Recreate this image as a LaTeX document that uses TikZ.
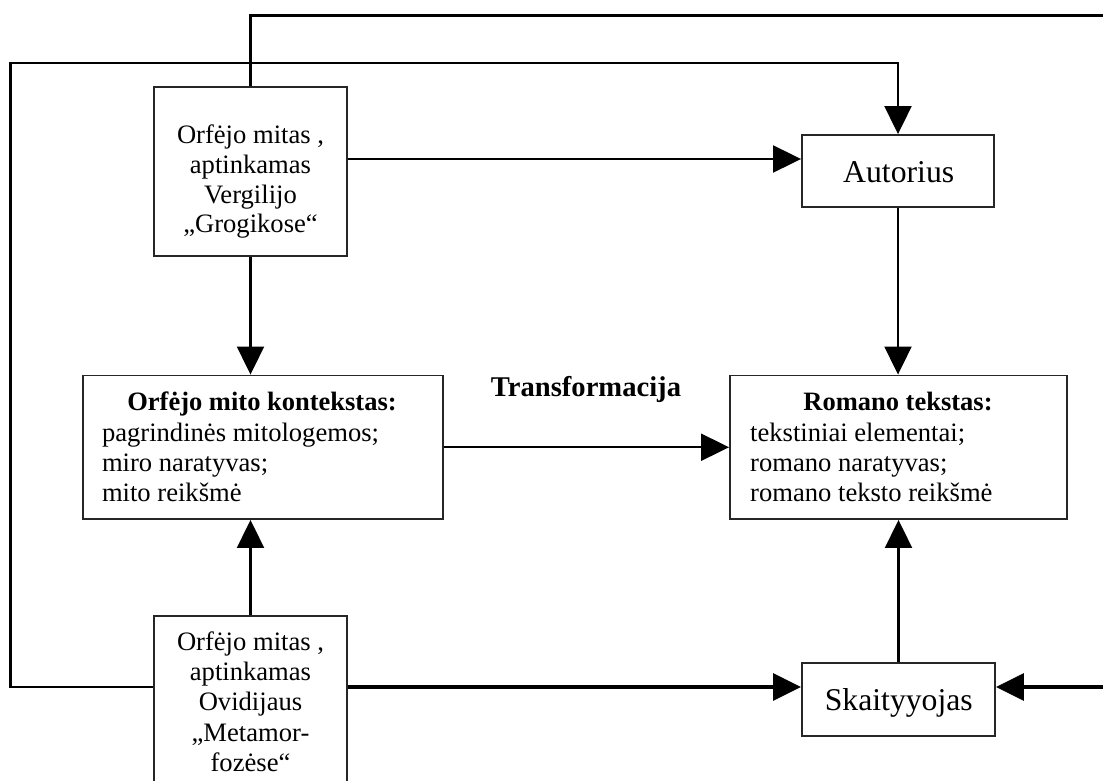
\documentclass[tikz,border=0pt]{standalone}
\usepackage{fontspec}
\setmainfont{Liberation Serif}
\usetikzlibrary{arrows.meta}
\begin{document}
\begin{tikzpicture}[x=1pt,y=-1pt,
  box/.style={draw=black!85, line width=1.9pt, rectangle, inner sep=0pt},
  conn/.style={line width=2.1pt},
  heavy/.style={line width=3.2pt},
  arr/.style={-{Triangle[length=28pt,width=27pt]}},
  txt/.style={inner sep=0pt, anchor=base},
  bigfont/.style={font=\fontsize{31.7}{38}\selectfont},
  headfont/.style={font=\fontsize{26.5}{30}\selectfont\bfseries}]
\useasboundingbox (0,0) rectangle (1103,781);
% boxes
\node[box, minimum width=193pt, minimum height=169pt] (verg) at (250.5,171.5) {};
\node[box, minimum width=192pt, minimum height=72pt] (au) at (898,171) {};
\node[box, minimum width=360.5pt, minimum height=143.5pt] (ko) at (263,447.25) {};
\node[box, minimum width=337pt, minimum height=143.5pt] (ro) at (898.5,447.25) {};
\node[box, minimum width=193pt, minimum height=184pt] (ovid) at (250.5,708) {};
\node[box, minimum width=193pt, minimum height=73pt] (sk) at (898.5,699.5) {};
% texts
\node[txt] (vergT) at (250.5,144) {\fontsize{26.6}{29.5}\selectfont\begin{tabular}[t]{@{}c@{}}Orfėjo mitas ,\\ aptinkamas\\ Vergilijo\\ „Grogikose“\end{tabular}};
\node[txt, bigfont] (auT) at (898.7,182.7) {Autorius};
\node[txt, headfont] (koH) at (262,410.7) {Orfėjo mito kontekstas:};
\node[txt, anchor=base west] (koB) at (101.8,441.7) {\fontsize{26.6}{30}\selectfont\begin{tabular}[t]{@{}l@{}}pagrindinės mitologemos;\\ miro naratyvas;\\ mito reikšmė\end{tabular}};
\node[txt, headfont] (roH) at (898,410.7) {Romano tekstas:};
\node[txt, anchor=base west] (roB) at (750,441.7) {\fontsize{26.6}{30}\selectfont\begin{tabular}[t]{@{}l@{}}tekstiniai elementai;\\ romano naratyvas;\\ romano teksto reikšmė\end{tabular}};
\node[txt, font=\fontsize{28.6}{34}\selectfont\bfseries] (trans) at (586,396.7) {Transformacija};
\node[txt] (ovidT) at (250.5,650) {\fontsize{26.6}{30.4}\selectfont\begin{tabular}[t]{@{}c@{}}Orfėjo mitas ,\\ aptinkamas\\ Ovidijaus\\ „Metamor-\\ fozėse“\end{tabular}};
\node[txt, bigfont] (skT) at (898.8,710.7) {Skaityyojas};
% helper coordinates
\coordinate (tr1) at (1103,15.5);
\coordinate (lt) at (10.5,63.3);
\coordinate (lb) at (10.5,687);
\coordinate (rr) at (1103,687);
\coordinate (ya) at (0,159);
% connectors
\draw[conn] (verg.north) -- (verg.north |- tr1) -- (tr1);
\draw[conn,arr] (ovid.west |- lb) -- (lb) -- (lt) -- (au.north |- lt) -- (au.north);
\draw[conn,arr] (verg.east |- ya) -- (au.west |- ya);
\draw[conn,arr] (verg.south) -- (verg.south |- ko.north);
\draw[conn,arr] (au.south) -- (au.south |- ro.north);
\draw[conn,arr] (ko.east) -- (ro.west);
\draw[conn,arr] (ovid.north) -- (ovid.north |- ko.south);
\draw[heavy,arr] (ovid.east |- lb) -- (sk.west |- lb);
\draw[heavy,arr] (rr) -- (sk.east |- rr);
\draw[conn,arr] (sk.north) -- (sk.north |- ro.south);
\end{tikzpicture}
\end{document}
